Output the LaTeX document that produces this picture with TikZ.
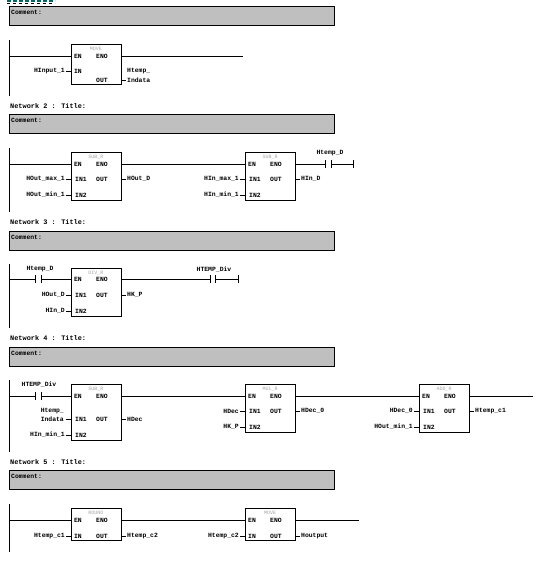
\documentclass[tikz,border=0pt]{standalone}
\usepackage{fontspec}
\setmainfont{Liberation Mono}
\tikzset{
  x=1pt,y=-1pt,
  wire/.style={line width=0.9pt,black},
  fbbox/.style={draw=black,fill=white,line width=0.9pt,minimum width=50pt,inner sep=0pt,outer sep=0pt,anchor=north west},
  txt/.style={font=\bfseries\fontsize{6.4}{7}\selectfont,inner sep=0pt,text=black},
  lab/.style={txt,anchor=east},
  rlab/.style={txt,anchor=west},
  pin/.style={txt,anchor=center},
  fname/.style={font=\fontsize{5}{6}\selectfont,inner sep=0pt,text=black!35},
  combox/.style={draw=black,fill=black!25,line width=0.9pt,minimum width=325pt,minimum height=19pt,inner sep=0pt,outer sep=0pt,anchor=north west},
  comtxt/.style={txt,anchor=west},
  nettxt/.style={font=\bfseries\fontsize{6.9}{7}\selectfont,inner sep=0pt,text=black,anchor=west},
}
\newcommand{\fbblock}[6]{%
  \node[fbbox,minimum height=#4pt] (#1) at (#2,#3) {};
  \node[fname] (#1t) at (#2+25,#3+5) {#5};
  \node[pin] (#1en) at (#2+7,#3+#6) {EN};
  \node[pin] (#1eno) at (#2+31,#3+#6) {ENO};
  \coordinate (#1L) at (#2,#3+#6);
  \coordinate (#1R) at (#2+50,#3+#6);
}
\newcommand{\commentbar}[2]{%
  \node[combox] (#1) at (9,#2) {};
  \node[comtxt] (#1t) at (11,#2+6) {Comment:};
}
\begin{document}
\begin{tikzpicture}
\useasboundingbox (0,0) rectangle (548,576);
\fill[white] (0,0) rectangle (548,576);
% top remnant
\draw[line width=2.4pt,teal!80!black,dash pattern=on 4pt off 2pt] (7,1) -- (55,1);
\draw[line width=.5pt,black,dash pattern=on 3pt off 3pt] (7,3) -- (55,3);

% ---- Network 1
\commentbar{c1}{6}
\coordinate (r1a) at (9,40); \coordinate (r1b) at (9,96);
\draw[wire] (r1a) -- (r1b);
\fbblock{a}{71}{44}{40}{MOVE}{12}
\coordinate (r1s) at (9,56); \coordinate (r1e) at (243,56);
\draw[wire] (r1s) -- (aL); \draw[wire] (aR) -- (r1e);
\node[pin] (ain) at (78,71) {IN};
\node[pin] (aout) at (102,80) {OUT};
\coordinate (ainL) at (71,71); \coordinate (aoutR) at (121,80);
\draw[wire] (66,71) -- (ainL); \draw[wire] (aoutR) -- (126,80);
\node[lab] (v1) at (65,71) {HInput\_1};
\node[rlab] (v2) at (127,71) {Htemp\_};
\node[rlab] (v3) at (127,80) {Indata};

% ---- Network 2
\node[nettxt] (n2) at (10,106) {Network 2 : Title:};
\commentbar{c2}{114}
\draw[wire] (9,148) -- (9,212);
\fbblock{b}{71}{152}{48}{SUB\_R}{12}
\fbblock{c}{245}{152}{48}{SUB\_R}{12}
\draw[wire] (9,164) -- (bL); \draw[wire] (bR) -- (cL);
\node[pin] (bi1) at (81,179) {IN1};
\node[pin] (bo) at (102,179) {OUT};
\node[pin] (bi2) at (81,195) {IN2};
\draw[wire] (66,179) -- (71,179); \draw[wire] (66,195) -- (71,195); \draw[wire] (121,179) -- (126,179);
\node[lab] (v4) at (65,179) {HOut\_max\_1};
\node[lab] (v5) at (65,195) {HOut\_min\_1};
\node[rlab] (v6) at (127,179) {HOut\_D};
\node[pin] (ci1) at (255,179) {IN1};
\node[pin] (co) at (276,179) {OUT};
\node[pin] (ci2) at (255,195) {IN2};
\draw[wire] (240,179) -- (245,179); \draw[wire] (240,195) -- (245,195); \draw[wire] (295,179) -- (300,179);
\node[lab] (v7) at (239,179) {HIn\_max\_1};
\node[lab] (v8) at (239,195) {HIn\_min\_1};
\node[rlab] (v9) at (301,179) {HIn\_D};
\draw[wire] (cR) -- (325,164) (325,160) -- (325,168) (331,160) -- (331,168) (331,164) -- (353,164) (353,160) -- (353,168);
\node[txt] (v10) at (330,153) {Htemp\_D};

% ---- Network 3
\node[nettxt] (n3) at (10,222) {Network 3 : Title:};
\commentbar{c3}{231}
\draw[wire] (9,264) -- (9,328);
\fbblock{d}{71}{268}{48}{DIV\_R}{11}
\draw[wire] (9,279) -- (35,279) (35,275) -- (35,283) (41,275) -- (41,283) (41,279) -- (dL);
\node[txt] (v11) at (40,269) {Htemp\_D};
\draw[wire] (dR) -- (210,279) (210,275) -- (210,283) (215,275) -- (215,283) (215,279) -- (238,279) (238,275) -- (238,283);
\node[txt] (v12) at (214,270) {HTEMP\_Div};
\node[pin] (di1) at (81,295) {IN1};
\node[pin] (do) at (102,295) {OUT};
\node[pin] (di2) at (81,311) {IN2};
\draw[wire] (66,295) -- (71,295); \draw[wire] (66,311) -- (71,311); \draw[wire] (121,295) -- (126,295);
\node[lab] (v13) at (65,295) {HOut\_D};
\node[lab] (v14) at (65,311) {HIn\_D};
\node[rlab] (v15) at (127,295) {HK\_P};

% ---- Network 4
\node[nettxt] (n4) at (10,338) {Network 4 : Title:};
\commentbar{c4}{347}
\draw[wire] (9,380) -- (9,452);
\fbblock{e}{71}{384}{56}{SUB\_R}{12}
\fbblock{f}{245}{384}{48}{MUL\_R}{12}
\fbblock{g}{419}{384}{48}{ADD\_R}{12}
\draw[wire] (9,396) -- (35,396) (35,392) -- (35,400) (41,392) -- (41,400) (41,396) -- (eL);
\node[txt] (v16) at (39,385) {HTEMP\_Div};
\draw[wire] (eR) -- (fL); \draw[wire] (fR) -- (gL);
\coordinate (r4e) at (533,396); \draw[wire] (gR) -- (r4e);
\node[pin] (ei1) at (81,419) {IN1};
\node[pin] (eo) at (102,419) {OUT};
\node[pin] (ei2) at (81,435) {IN2};
\draw[wire] (66,419) -- (71,419); \draw[wire] (66,435) -- (71,435); \draw[wire] (121,419) -- (126,419);
\node[lab] (v17a) at (64,411) {Htemp\_};
\node[lab] (v17b) at (64,419) {Indata};
\node[lab] (v18) at (65,435) {HIn\_min\_1};
\node[rlab] (v19) at (127,419) {HDec};
\node[pin] (fi1) at (255,411) {IN1};
\node[pin] (fo) at (276,411) {OUT};
\node[pin] (fi2) at (255,427) {IN2};
\draw[wire] (240,411) -- (245,411); \draw[wire] (240,427) -- (245,427); \draw[wire] (295,411) -- (300,411);
\node[lab] (v20) at (239,411) {HDec};
\node[lab] (v21) at (239,427) {HK\_P};
\node[rlab] (v22) at (301,411) {HDec\_0};
\node[pin] (gi1) at (429,411) {IN1};
\node[pin] (go) at (450,411) {OUT};
\node[pin] (gi2) at (429,427) {IN2};
\draw[wire] (414,411) -- (419,411); \draw[wire] (414,427) -- (419,427); \draw[wire] (469,411) -- (474,411);
\node[lab] (v23) at (413,411) {HDec\_0};
\node[lab] (v24) at (413,427) {HOut\_min\_1};
\node[rlab] (v25) at (475,411) {Htemp\_c1};

% ---- Network 5
\node[nettxt] (n5) at (10,462) {Network 5 : Title:};
\commentbar{c5}{470}
\draw[wire] (9,504) -- (9,552);
\fbblock{h}{71}{508}{32}{ROUND}{12}
\fbblock{i}{245}{508}{32}{MOVE}{12}
\coordinate (r5e) at (359,520);
\draw[wire] (9,520) -- (hL); \draw[wire] (hR) -- (iL); \draw[wire] (iR) -- (r5e);
\node[pin] (hi) at (78,536) {IN};
\node[pin] (ho) at (102,536) {OUT};
\draw[wire] (66,536) -- (71,536); \draw[wire] (121,536) -- (126,536);
\node[lab] (v26) at (65,536) {Htemp\_c1};
\node[rlab] (v27) at (127,536) {Htemp\_c2};
\node[pin] (ii) at (252,536) {IN};
\node[pin] (io) at (276,536) {OUT};
\draw[wire] (240,536) -- (245,536); \draw[wire] (295,536) -- (300,536);
\node[lab] (v28) at (239,536) {Htemp\_c2};
\node[rlab] (v29) at (301,536) {Houtput};
\end{tikzpicture}
\end{document}
